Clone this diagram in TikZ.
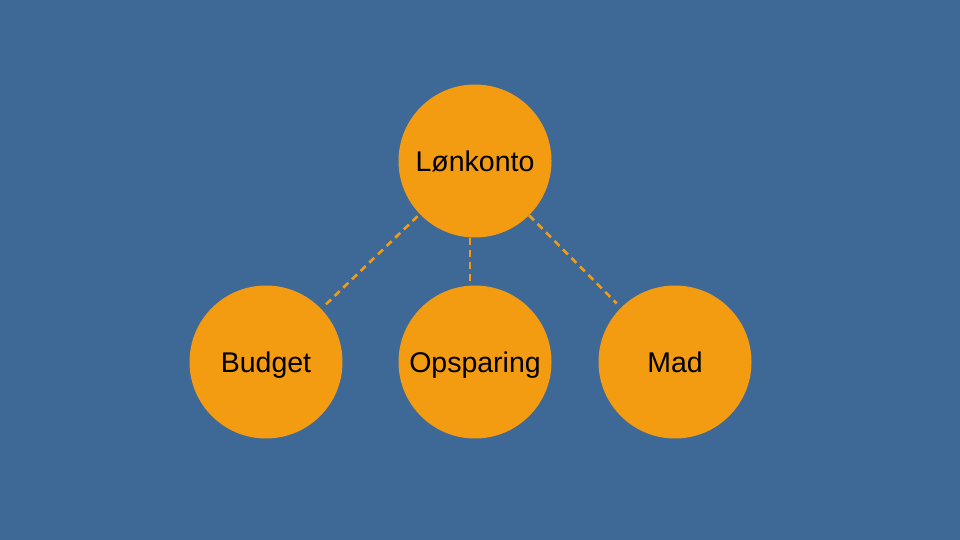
\documentclass[tikz,border=0pt]{standalone}
\usepackage{fontspec}
\setmainfont{Liberation Sans}
\usetikzlibrary{positioning}
\definecolor{bgblue}{RGB}{62,104,150}
\definecolor{kontoorange}{RGB}{243,156,18}
\tikzset{
    konto/.style = {circle, fill=kontoorange, minimum size=153pt, inner sep=0, align=center, text height=20.5pt, text depth=0pt, font=\fontsize{28.5}{34}\selectfont, text=black},
    edged/.style = {-, line width=2.6pt, draw=kontoorange, dash pattern=on 7pt off 5pt},
}
\begin{document}
\begin{tikzpicture}[x=1pt,y=-1pt]
\fill[bgblue] (0,0) rectangle (960,540);
\useasboundingbox (0,0) rectangle (960,540);

\node[konto] at (475,161) (lon) {Lønkonto};
\node[konto] at (266,362) (budget) {Budget};
\node[konto] at (475,362) (opsparing) {Opsparing};
\node[konto] at (675,362) (mad) {Mad};

\draw[edged, shorten <=3pt, shorten >=6pt] (lon) -- (budget);
\draw[edged] ([xshift=-5pt]lon.south) -- ([xshift=-5pt]opsparing.north);
\draw[edged, shorten >=6pt] (lon) -- (mad);

\end{tikzpicture}
\end{document}
